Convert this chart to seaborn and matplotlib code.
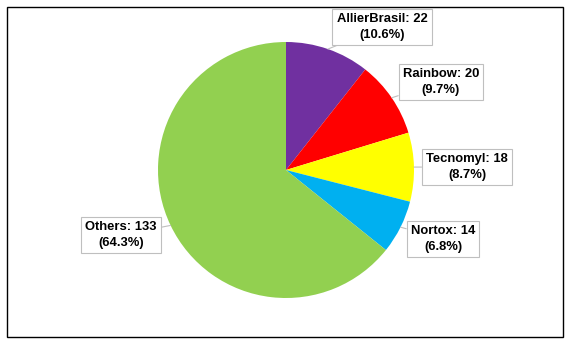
import numpy as np
import matplotlib
matplotlib.use("Agg")
import matplotlib.pyplot as plt
import seaborn as sns
from matplotlib.patches import Rectangle

categories = ["AllierBrasil", "Rainbow", "Tecnomyl", "Nortox", "Others"]
values = [22, 20, 18, 14, 133]
colors = ["#7030A0", "#FF0000", "#FFFF00", "#00B0F0", "#92D050"]

sns.set_style("white")
plt.rcParams['font.family'] = ['Liberation Sans', 'DejaVu Sans']

W, H = 571, 346
fig = plt.figure(figsize=(W / 100, H / 100), dpi=100)
cx, cy, R = 286, 170, 128
ax = fig.add_axes([(cx - R) / W, (H - cy - R) / H, 2 * R / W, 2 * R / H])
ax.pie(values, colors=colors, startangle=90, counterclock=False,
       wedgeprops=dict(linewidth=0), radius=1)
ax.set_xlim(-1, 1)
ax.set_ylim(-1, 1)
ax.set_aspect('auto')
ax.axis('off')

# label box centers in pixel coordinates
label_px = [(382, 27), (441, 82), (467, 167), (443, 239), (121, 235)]

total = sum(values)
cum = np.cumsum([0] + values)
for i, (cat, v) in enumerate(zip(categories, values)):
    mid = (cum[i] + cum[i + 1]) / 2 / total
    ang = np.deg2rad(90 - 360 * mid)
    xy = (np.cos(ang), np.sin(ang))
    px, py = label_px[i]
    txy = ((px - cx) / R, (cy - py) / R)
    ax.annotate(f"{cat}: {v}\n({100 * v / total:.1f}%)", xy=xy, xytext=txy,
                ha='center', va='center', fontsize=9.4, fontweight='bold',
                color='black', linespacing=1.45, annotation_clip=False,
                bbox=dict(boxstyle='square,pad=0.32', fc='white', ec='#BFBFBF', lw=0.8),
                arrowprops=dict(arrowstyle='-', color='#BFBFBF', lw=0.8,
                                shrinkA=0, shrinkB=0))

fig.patches.append(Rectangle((7 / W, 9 / H), 556 / W, 330 / H, transform=fig.transFigure,
                             fill=False, ec='black', lw=1))
fig.savefig("out.png", dpi=100)
